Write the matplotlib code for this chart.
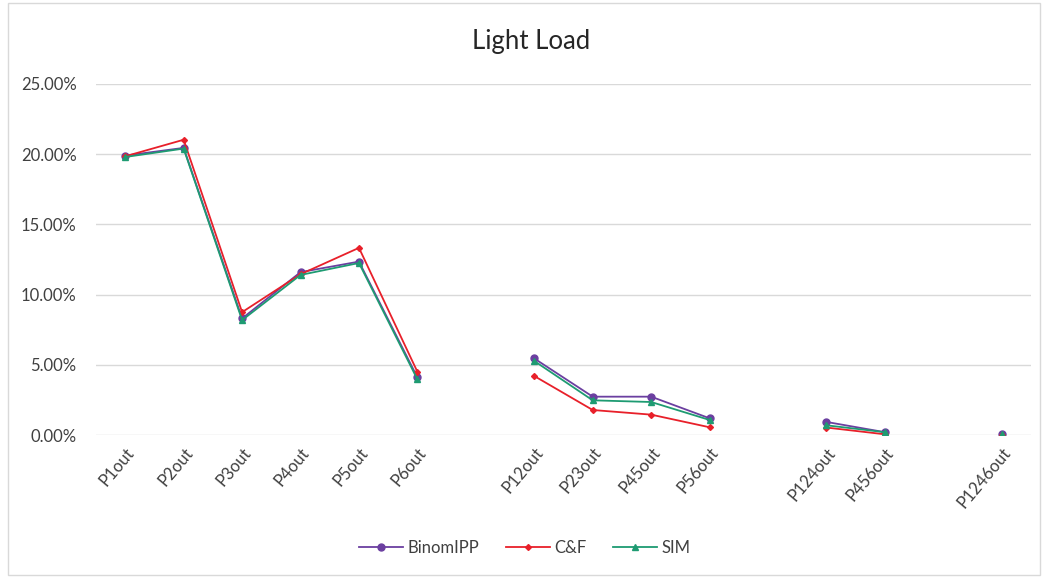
import numpy as np
import matplotlib
matplotlib.use("Agg")
import matplotlib.pyplot as plt
from matplotlib.ticker import FuncFormatter
from matplotlib.patches import Rectangle

# Categories ("" marks an empty slot between groups)
categories = ["P1out", "P2out", "P3out", "P4out", "P5out", "P6out", "",
              "P12out", "P23out", "P45out", "P56out", "",
              "P124out", "P456out", "", "P1246out"]

nan = np.nan
binom_ipp = [19.90, 20.45, 8.30, 11.60, 12.35, 4.10, nan,
             5.45, 2.73, 2.73, 1.19, nan,
             0.93, 0.20, nan, 0.05]
c_and_f = [19.85, 21.03, 8.75, 11.45, 13.33, 4.50, nan,
           4.20, 1.78, 1.45, 0.55, nan,
           0.53, 0.05, nan, 0.02]
sim = [19.80, 20.40, 8.18, 11.40, 12.25, 3.96, nan,
       5.27, 2.47, 2.35, 1.07, nan,
       0.69, 0.20, nan, 0.05]

plt.rcParams["font.family"] = ["Lato", "DejaVu Sans"]

fig = plt.figure(figsize=(10.46, 5.77), dpi=100)
ax = fig.add_axes([96 / 1046, 1 - 435 / 577, (1031 - 96) / 1046, (435 - 84) / 577])

x = np.arange(len(categories))
ax.plot(x, binom_ipp, color="#6B3FA0", lw=1.3, marker="o", ms=5, label="BinomIPP", zorder=3)
ax.plot(x, c_and_f, color="#E8202A", lw=1.3, marker="D", ms=3, label="C&F", zorder=4)
ax.plot(x, sim, color="#1E9B72", lw=1.3, marker="^", ms=5, label="SIM", zorder=5)

ax.set_xlim(-0.5, len(categories) - 0.5)
ax.set_ylim(0, 25)
ax.set_yticks(np.arange(0, 26, 5))
ax.yaxis.set_major_formatter(FuncFormatter(lambda v, p: f"{v:.2f}%"))
ax.grid(axis="y", color="#D9D9D9", lw=1)
ax.set_axisbelow(True)
for s in ax.spines.values():
    s.set_visible(False)
ax.tick_params(axis="y", length=0, pad=14, labelsize=12, labelcolor="#404040")
ax.set_xticks(x)
ax.set_xticklabels(categories, rotation=50, ha="right", rotation_mode="anchor",
                   fontsize=12, color="#404040")
ax.tick_params(axis="x", length=0, pad=7)

fig.text(0.508, 1 - 41 / 577, "Light Load", ha="center", va="center",
         fontsize=18.5, color="#262626")

leg = fig.legend(loc="center", bbox_to_anchor=(0.502, 1 - 548 / 577), ncol=3,
                 frameon=False, fontsize=12, handlelength=2.6, columnspacing=1.6,
                 handletextpad=0.3)
for t in leg.get_texts():
    t.set_color("#404040")

# chart frame
fig.patches.append(Rectangle((8 / 1046, 2 / 577), 1032 / 1046, 572 / 577,
                             transform=fig.transFigure, fill=False,
                             edgecolor="#D9D9D9", lw=1))

fig.savefig("out.png", dpi=100)
